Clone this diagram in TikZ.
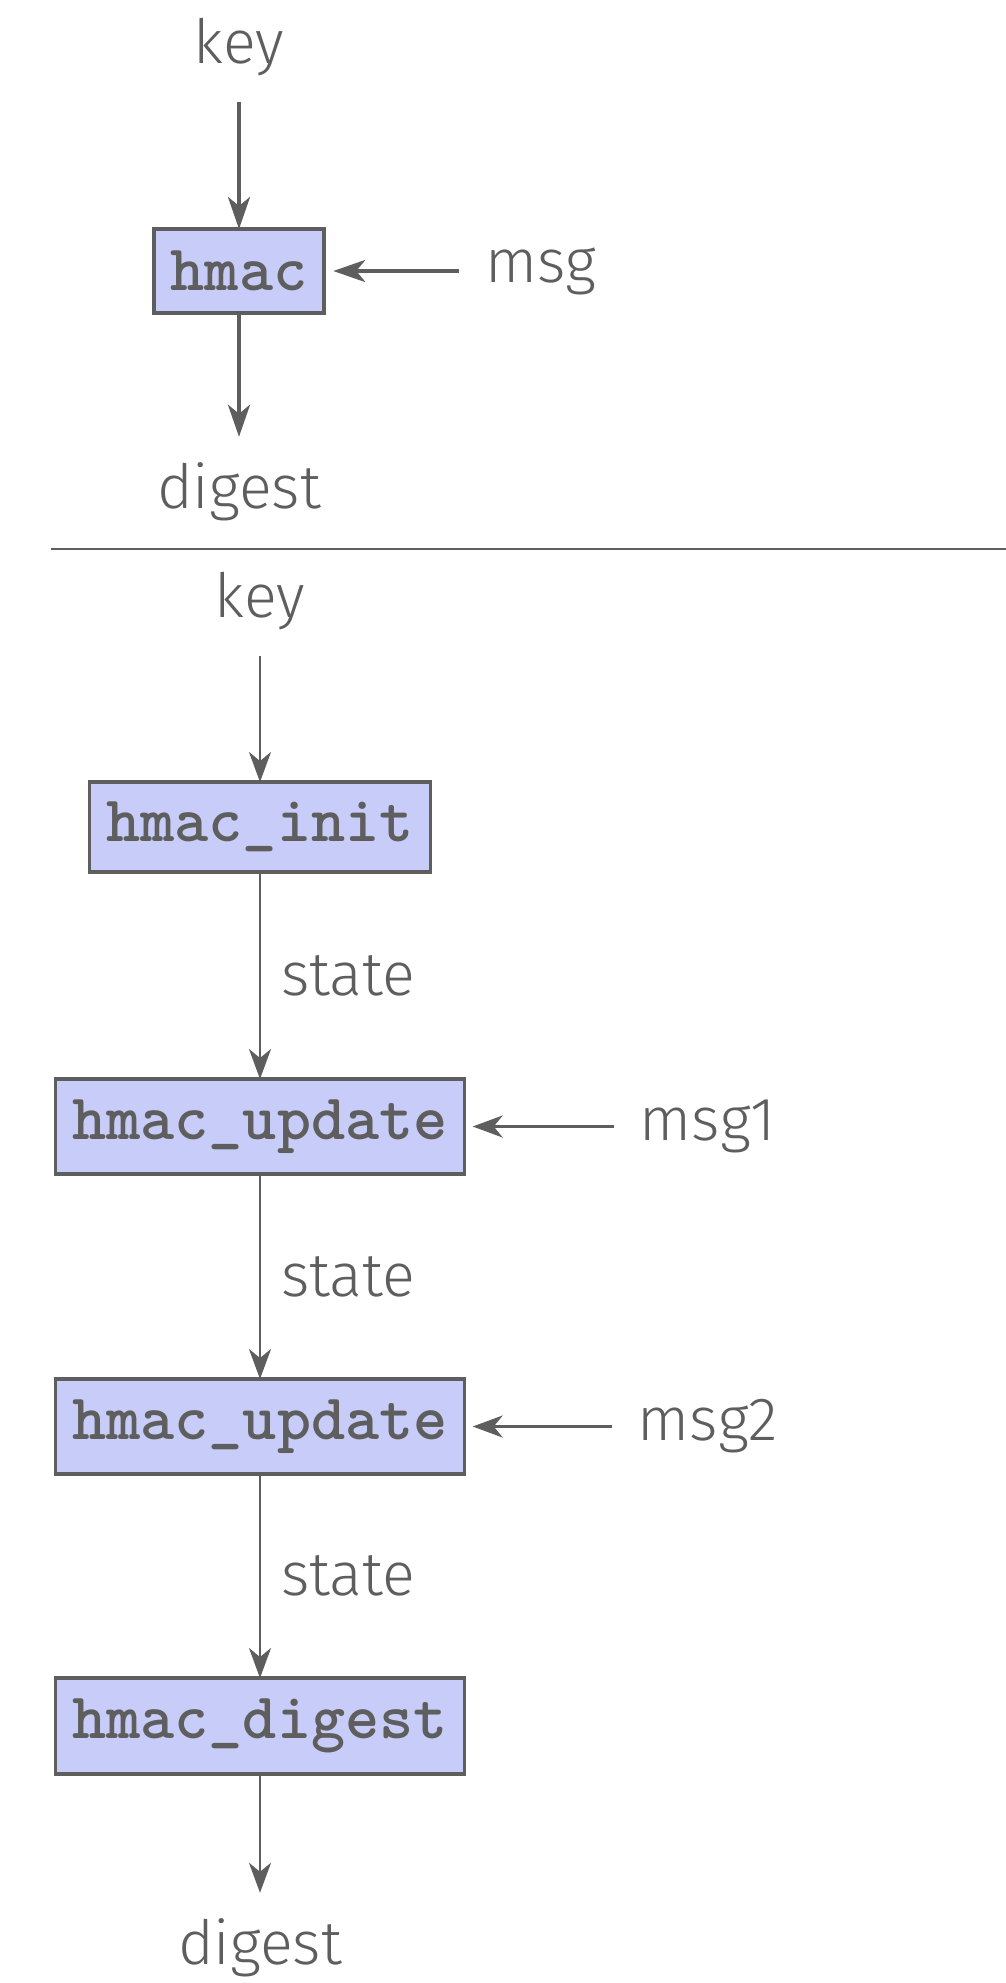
\documentclass[tikz,border=0pt]{standalone}
\usepackage{fontspec}
\setmainfont{Fira Sans}[UprightFont=* Light]
\usetikzlibrary{arrows.meta}
\definecolor{inkgray}{HTML}{5E5E5E}
\definecolor{boxfill}{HTML}{C8CCF8}
\begin{document}
\begin{tikzpicture}[x=0.5pt,y=-0.5pt,
  lbl/.style={inner sep=0pt,outer sep=13pt,text=inkgray,font=\fontsize{30.5}{36}\selectfont},
  stlbl/.style={inner sep=0pt,outer sep=0pt,anchor=west,xshift=10.5pt,text=inkgray,font=\fontsize{30.5}{36}\selectfont},
  fn/.style={draw=inkgray,fill=boxfill,inner xsep=8.5pt,inner ysep=0pt,outer sep=0pt,text=inkgray,
    font=\ttfamily\bfseries\fontsize{32.5}{36}\selectfont},
  fntop/.style={fn,line width=2pt},
  fnbot/.style={fn,line width=1.7pt},
  arrtop/.style={draw=inkgray,line width=2pt,-{Stealth[length=16pt,width=11pt,inset=4.5pt]}},
  arrbot/.style={draw=inkgray,line width=1.3pt,-{Stealth[length=15pt,width=11pt,inset=4.5pt]}}]
\useasboundingbox (0,0) rectangle (1006,1983);
% top part
\node[lbl] (key1) at (239,47) {key};
\node[fntop,minimum height=42pt] (hmac) at (239,271) {hmac};
\node[lbl] (msg) at (541,271) {msg};
\node[lbl] (dig1) at (239,492) {digest};
\draw[arrtop] (key1.south) -- (hmac.north);
\draw[arrtop,shorten >=4.5pt] (msg.west) -- (hmac.east);
\draw[arrtop] (hmac.south) -- (dig1.north);
% separator
\coordinate (sepL) at (51,549);
\coordinate (sepR) at (1006,549);
\draw[inkgray,line width=1.1pt] (sepL) -- (sepR);
% bottom part
\node[lbl] (key2) at (260,601) {key};
\node[fnbot,minimum height=45pt] (init) at (260,827) {hmac\_init};
\node[fnbot,minimum height=47.5pt] (upd1) at (260,1126.5) {hmac\_update};
\node[fnbot,minimum height=47.5pt] (upd2) at (260,1426.5) {hmac\_update};
\node[fnbot,minimum height=48pt] (fin) at (260,1726) {hmac\_digest};
\node[lbl] (msg1) at (708,1126.5) {msg1};
\node[lbl] (msg2) at (708,1426.5) {msg2};
\node[lbl] (dig2) at (260,1948) {digest};
\draw[arrbot] (key2.south) -- (init.north);
\draw[arrbot] (init.south) -- node[stlbl] (st1) {state} (upd1.north);
\draw[arrbot] (upd1.south) -- node[stlbl] (st2) {state} (upd2.north);
\draw[arrbot] (upd2.south) -- node[stlbl] (st3) {state} (fin.north);
\draw[arrbot] (fin.south) -- (dig2.north);
\draw[arrbot,shorten >=4pt] (msg1.west) -- (upd1.east);
\draw[arrbot,shorten >=4pt] (msg2.west) -- (upd2.east);
\end{tikzpicture}
\end{document}
